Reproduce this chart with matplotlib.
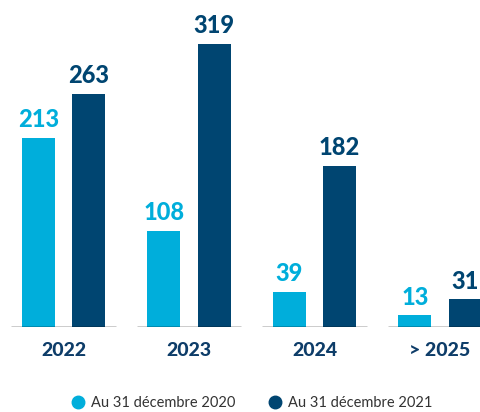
import matplotlib.pyplot as plt
import numpy as np
from matplotlib.lines import Line2D

# données
years = ['2022', '2023', '2024', '> 2025']
y2020 = [213, 108, 39, 13]
y2021 = [263, 319, 182, 31]

light = '#00AEDB'
dark = '#004571'
navy = '#0E3D69'

fig = plt.figure(figsize=(4.81, 4.12), dpi=100)
ax = fig.add_axes([0, 85 / 412, 1, 327 / 412])

x = np.arange(len(years))
w = 0.263
ax.bar(x - 0.2, y2020, width=w, color=light)
ax.bar(x + 0.2, y2021, width=w, color=dark)

for i in x:
    ax.plot([i - 0.418, i + 0.418], [0, 0], color='black', lw=1, solid_capstyle='butt')
    ax.annotate(str(y2020[i]), (i - 0.2, y2020[i]), xytext=(0, 5), textcoords='offset points',
                ha='center', va='bottom', color=light, fontsize=17, family='Lato', weight='black')
    ax.annotate(str(y2021[i]), (i + 0.2, y2021[i]), xytext=(0, 5), textcoords='offset points',
                ha='center', va='bottom', color=dark, fontsize=17, family='Lato', weight='black')
    ax.annotate(years[i], (i, 0), xytext=(0, -17), textcoords='offset points',
                ha='center', va='center', color=navy, fontsize=14,
                family='Lato', weight='black')

ax.set_xlim(-0.506, 3.327)
ax.set_ylim(0, 368.6)
ax.axis('off')

handles = [Line2D([], [], marker='o', ls='', color=light, markersize=9),
           Line2D([], [], marker='o', ls='', color=dark, markersize=9)]
leg = fig.legend(handles, ['Au 31 décembre 2020', 'Au 31 décembre 2021'], ncol=2, frameon=False,
                 loc='center', bbox_to_anchor=(0.523, 9 / 412), prop={'family': 'Lato', 'size': 10.5},
                 handletextpad=0.4, columnspacing=2.2, handlelength=1.0)
for t in leg.get_texts():
    t.set_color('#333333')

fig.savefig('out.png', dpi=100)
